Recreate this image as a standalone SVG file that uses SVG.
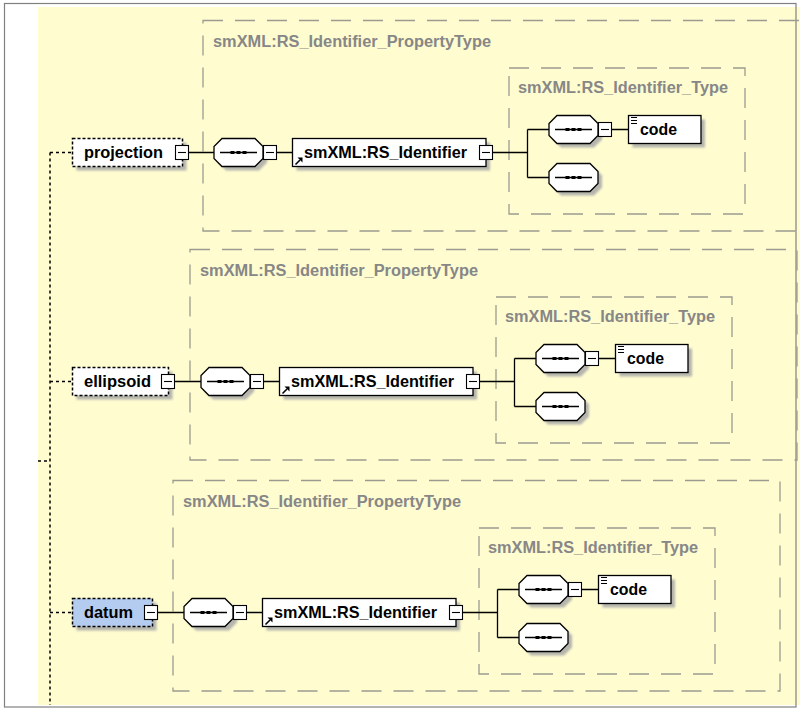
<svg xmlns="http://www.w3.org/2000/svg" width="800" height="713" viewBox="0 0 800 713">
<style>
.bg{fill:#FFFCD0}
.frame{fill:none;stroke:#808080;stroke-width:1.2}
.pbox{fill:none;stroke:#9b9b90;stroke-width:1.3;stroke-dasharray:20,12}
.lbl{font-family:"Liberation Sans",Arial,sans-serif;font-weight:bold;font-size:16px;fill:#878787}
.txt{font-family:"Liberation Sans",Arial,sans-serif;font-weight:bold;font-size:16.5px;fill:#000}
.el{fill:#fff;stroke:#000;stroke-width:1.3}
.opt{fill:#fff;stroke:#000;stroke-width:1.5;stroke-dasharray:3,2}
.sel{fill:#B4CCF0}
.sh{fill:#b5b5ae;filter:url(#blur)}
.comp{fill:#fff;stroke:#000;stroke-width:1.3}
.ln{fill:none;stroke:#000;stroke-width:1.3}
.dot{fill:none;stroke:#000;stroke-width:1.5;stroke-dasharray:3,3}
</style>
<defs>
<filter id="blur" x="-20%" y="-20%" width="140%" height="140%"><feGaussianBlur stdDeviation="1.2"/></filter>
<g id="comp">
<path class="sh" d="M12,4 H45 L53,12 V24 L45,32 H12 L4,24 V12 Z"/>
<path class="comp" d="M8,0 H41 L49,8 V20 L41,28 H8 L0,20 V8 Z"/>
<path class="ln" d="M6,14 H43"/>
<rect x="16.5" y="12.5" width="4" height="3" fill="#000"/>
<rect x="22.5" y="12.5" width="4" height="3" fill="#000"/>
<rect x="28.5" y="12.5" width="4" height="3" fill="#000"/>
</g>
<g id="exp">
<rect x="0.5" y="0.5" width="13" height="14" fill="#fff" stroke="#000" stroke-width="1.1"/>
<path d="M3,7.5 H11" stroke="#000" stroke-width="1.1"/>
</g>
<g id="ref">
<path d="M1.5,7.5 L6,3" stroke="#000" stroke-width="1.6"/>
<polygon points="3.5,0.5 8.5,0.5 8.5,5.5" fill="#000"/>
</g>
<g id="ci">
<path d="M0,0.5 H6 M0,3.5 H6 M0,6.5 H6" stroke="#000" stroke-width="1"/>
</g>
</defs>

<rect x="0" y="0" width="800" height="713" fill="#fff"/>
<rect class="bg" x="38" y="7" width="762" height="698"/>
<rect class="frame" x="4.5" y="3.5" width="791.5" height="703.5"/>

<!-- property type boxes -->
<g id="pt-projection">
<rect class="pbox" x="203" y="20.5" width="607" height="210.5"/>
<text class="lbl" x="213" y="47" textLength="278" lengthAdjust="spacingAndGlyphs">smXML:RS_Identifier_PropertyType</text>
</g>
<g id="t-projection">
<rect class="pbox" x="509" y="68" width="236" height="146"/>
<text class="lbl" x="518" y="93" textLength="210" lengthAdjust="spacingAndGlyphs">smXML:RS_Identifier_Type</text>
</g>
<g id="pt-ellipsoid">
<rect class="pbox" x="190" y="249.5" width="607" height="210.5"/>
<text class="lbl" x="200" y="276" textLength="278" lengthAdjust="spacingAndGlyphs">smXML:RS_Identifier_PropertyType</text>
</g>
<g id="t-ellipsoid">
<rect class="pbox" x="496" y="297" width="236" height="146"/>
<text class="lbl" x="505" y="322" textLength="210" lengthAdjust="spacingAndGlyphs">smXML:RS_Identifier_Type</text>
</g>
<g id="pt-datum">
<rect class="pbox" x="173" y="480.5" width="607" height="210.5"/>
<text class="lbl" x="183" y="507" textLength="278" lengthAdjust="spacingAndGlyphs">smXML:RS_Identifier_PropertyType</text>
</g>
<g id="t-datum">
<rect class="pbox" x="479" y="528" width="236" height="146"/>
<text class="lbl" x="488" y="553" textLength="210" lengthAdjust="spacingAndGlyphs">smXML:RS_Identifier_Type</text>
</g>

<!-- connectors -->
<g id="connectors">
<path class="dot" d="M50,152.5 V705 M50,152.5 H72 M50,381.5 H72 M50,612.5 H72 M38,461 H50"/>
<path class="ln" d="M188,152.5 H214 M276,152.5 H292 M492,152.5 H527.5 M527.5,129.5 V177.5 M527.5,129.5 H549 M527.5,177.5 H549 M612,129.5 H628"/>
<path class="ln" d="M174,381.5 H201 M263,381.5 H279 M479,381.5 H514.5 M514.5,358.5 V406.5 M514.5,358.5 H536 M514.5,406.5 H536 M599,358.5 H615"/>
<path class="ln" d="M157,612.5 H184 M246,612.5 H262 M462,612.5 H497.5 M497.5,589.5 V637.5 M497.5,589.5 H519 M497.5,637.5 H519 M582,589.5 H598"/>
</g>

<!-- row 1 -->
<g id="n-projection">
<rect class="sh" x="76.5" y="142.5" width="110" height="28"/>
<rect class="opt" x="72.5" y="138.5" width="110" height="28"/>
<text class="txt" x="84" y="158" textLength="79" lengthAdjust="spacingAndGlyphs">projection</text>
<use href="#exp" x="175" y="145"/>
</g>
<g id="n-projection-seq">
<use href="#comp" x="214" y="138.5"/>
<use href="#exp" x="263" y="145"/>
</g>
<g id="n-projection-id">
<rect class="sh" x="296.5" y="142.5" width="193.5" height="28"/>
<rect class="el" x="292.5" y="138.5" width="193.5" height="28"/>
<text class="txt" x="304" y="158" textLength="163" lengthAdjust="spacingAndGlyphs">smXML:RS_Identifier</text>
<use href="#ref" x="294" y="157"/>
<use href="#exp" x="479" y="145"/>
</g>
<g id="n-projection-seq1">
<use href="#comp" x="549" y="115.5"/>
<use href="#exp" x="598" y="122"/>
</g>
<g id="n-projection-code">
<rect class="sh" x="632.5" y="119.5" width="72.5" height="28"/>
<rect class="el" x="628.5" y="115.5" width="72.5" height="28"/>
<text class="txt" x="640" y="135" textLength="37" lengthAdjust="spacingAndGlyphs">code</text>
<use href="#ci" x="631" y="117"/>
</g>
<g id="n-projection-seq2">
<use href="#comp" x="549" y="163.5"/>
</g>

<!-- row 2 -->
<g id="n-ellipsoid">
<rect class="sh" x="76.5" y="371.5" width="96" height="28"/>
<rect class="opt" x="72.5" y="367.5" width="96" height="28"/>
<text class="txt" x="84" y="387" textLength="67" lengthAdjust="spacingAndGlyphs">ellipsoid</text>
<use href="#exp" x="161" y="374"/>
</g>
<g id="n-ellipsoid-seq">
<use href="#comp" x="201" y="367.5"/>
<use href="#exp" x="250" y="374"/>
</g>
<g id="n-ellipsoid-id">
<rect class="sh" x="283.5" y="371.5" width="193.5" height="28"/>
<rect class="el" x="279.5" y="367.5" width="193.5" height="28"/>
<text class="txt" x="291" y="387" textLength="163" lengthAdjust="spacingAndGlyphs">smXML:RS_Identifier</text>
<use href="#ref" x="281" y="386"/>
<use href="#exp" x="466" y="374"/>
</g>
<g id="n-ellipsoid-seq1">
<use href="#comp" x="536" y="344.5"/>
<use href="#exp" x="585" y="351"/>
</g>
<g id="n-ellipsoid-code">
<rect class="sh" x="619.5" y="348.5" width="72.5" height="28"/>
<rect class="el" x="615.5" y="344.5" width="72.5" height="28"/>
<text class="txt" x="627" y="364" textLength="37" lengthAdjust="spacingAndGlyphs">code</text>
<use href="#ci" x="618" y="346"/>
</g>
<g id="n-ellipsoid-seq2">
<use href="#comp" x="536" y="392.5"/>
</g>

<!-- row 3 -->
<g id="n-datum">
<rect class="sh" x="76.5" y="602.5" width="80" height="28"/>
<rect class="opt sel" x="72.5" y="598.5" width="80" height="28"/>
<text class="txt" x="84" y="618" textLength="49" lengthAdjust="spacingAndGlyphs">datum</text>
<use href="#exp" x="144" y="605"/>
</g>
<g id="n-datum-seq">
<use href="#comp" x="184" y="598.5"/>
<use href="#exp" x="233" y="605"/>
</g>
<g id="n-datum-id">
<rect class="sh" x="266.5" y="602.5" width="193.5" height="28"/>
<rect class="el" x="262.5" y="598.5" width="193.5" height="28"/>
<text class="txt" x="274" y="618" textLength="163" lengthAdjust="spacingAndGlyphs">smXML:RS_Identifier</text>
<use href="#ref" x="264" y="617"/>
<use href="#exp" x="449" y="605"/>
</g>
<g id="n-datum-seq1">
<use href="#comp" x="519" y="575.5"/>
<use href="#exp" x="568" y="582"/>
</g>
<g id="n-datum-code">
<rect class="sh" x="602.5" y="579.5" width="72.5" height="28"/>
<rect class="el" x="598.5" y="575.5" width="72.5" height="28"/>
<text class="txt" x="610" y="595" textLength="37" lengthAdjust="spacingAndGlyphs">code</text>
<use href="#ci" x="601" y="577"/>
</g>
<g id="n-datum-seq2">
<use href="#comp" x="519" y="623.5"/>
</g>
</svg>
